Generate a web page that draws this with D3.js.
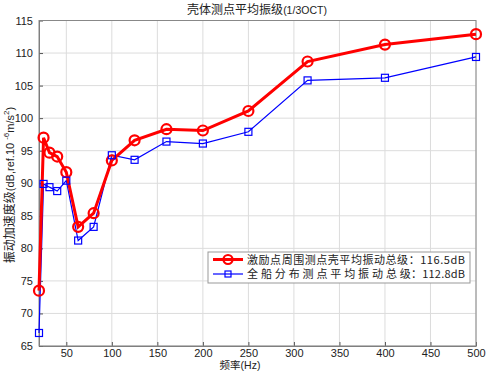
<!DOCTYPE html>
<html><head><meta charset="utf-8">
<script src="https://cdn.jsdelivr.net/npm/d3@7/dist/d3.min.js"></script>
<style>body{margin:0;background:#fff}svg{display:block}</style>
</head><body>
<svg id="c" width="486" height="373"></svg>
<script>
const freqs = [20, 25, 31.5, 40, 50, 63, 80, 100, 125, 160, 200, 250, 315, 400, 500];
const redVals = [73.5, 97.0, 94.7, 94.1, 91.7, 83.3, 85.4, 93.5, 96.6, 98.3, 98.1, 101.1, 108.7, 111.3, 112.9];
const blueVals = [67.0, 89.9, 89.4, 88.8, 90.4, 81.2, 83.3, 94.3, 93.6, 96.4, 96.1, 97.9, 105.8, 106.2, 109.4];
const xTicks = [50, 100, 150, 200, 250, 300, 350, 400, 450, 500];
const yTicks = [65, 70, 75, 80, 85, 90, 95, 100, 105, 110, 115];
const title = "壳体测点平均振级";
const titleSuffix = "(1/3OCT)";
const legendRed = "激励点周围测点壳平均振动总级：116.5dB";
const legendBlue = "全 船 分 布 测 点 平 均 振 动 总 级：112.8dB";

const L = 39, R = 476, T = 20.5, B = 346;
const svg = d3.select("#c");
const x = d3.scaleLinear().domain([20, 500]).range([L, R]);
const y = d3.scaleLinear().domain([65, 115]).range([B, T]);
const sans = "Liberation Sans, Arial, sans-serif";
const cjk = "'Noto Sans CJK SC', sans-serif";

// grid
const g = svg.append("g");
g.selectAll(".gx").data(xTicks).enter().append("line")
  .attr("x1", d => x(d)).attr("x2", d => x(d)).attr("y1", T).attr("y2", B)
  .attr("stroke", "#dcdcdc").attr("stroke-width", 1);
g.selectAll(".gy").data(yTicks).enter().append("line")
  .attr("x1", L).attr("x2", R).attr("y1", d => y(d)).attr("y2", d => y(d))
  .attr("stroke", "#dcdcdc").attr("stroke-width", 1);

// axes
const xAxis = d3.axisBottom(x).tickValues(xTicks).tickSizeInner(-4).tickSizeOuter(0).tickPadding(3);
const yAxis = d3.axisLeft(y).tickValues(yTicks).tickSizeInner(-4).tickSizeOuter(0).tickPadding(6);
const gx = svg.append("g").attr("transform", `translate(0,${B})`).call(xAxis);
const gy = svg.append("g").attr("transform", `translate(${L},0)`).call(yAxis);
[gx, gy].forEach(a => {
  a.selectAll("text").attr("font-family", sans).attr("font-size", 11).attr("fill", "#222");
  a.selectAll("line").attr("stroke", "#555");
  a.select(".domain").attr("stroke", "#777");
});
// box
svg.append("rect").attr("x", L).attr("y", T).attr("width", R - L).attr("height", B - T)
  .attr("fill", "none").attr("stroke", "#888").attr("stroke-width", 1);

// lines
const lineGen = vals => d3.line().x((d, i) => x(freqs[i])).y(d => y(d))(vals);
svg.append("path").attr("d", lineGen(blueVals)).attr("fill", "none")
  .attr("stroke", "#0000ff").attr("stroke-width", 1.2);
svg.append("path").attr("d", lineGen(redVals)).attr("fill", "none")
  .attr("stroke", "#ff0000").attr("stroke-width", 3);

svg.selectAll(".rm").data(redVals).enter().append("circle")
  .attr("cx", (d, i) => x(freqs[i])).attr("cy", d => y(d)).attr("r", 5)
  .attr("fill", "none").attr("stroke", "#ff0000").attr("stroke-width", 2.2);
svg.selectAll(".bm").data(blueVals).enter().append("rect")
  .attr("x", (d, i) => x(freqs[i]) - 3.5).attr("y", d => y(d) - 3.5)
  .attr("width", 7).attr("height", 7)
  .attr("fill", "none").attr("stroke", "#0000ff").attr("stroke-width", 1.2);

// title
const tt = svg.append("text").attr("x", 257).attr("y", 14).attr("text-anchor", "middle")
  .attr("fill", "#222");
tt.append("tspan").attr("font-family", cjk).attr("font-size", 12).text(title);
tt.append("tspan").attr("font-family", sans).attr("font-size", 10.5).text(titleSuffix);

// x label
const xl = svg.append("text").attr("x", 240).attr("y", 369).attr("text-anchor", "middle").attr("fill", "#222");
xl.append("tspan").attr("font-family", cjk).attr("font-size", 10.5).text("频率");
xl.append("tspan").attr("font-family", sans).attr("font-size", 10.5).text("(Hz)");

// y label
const yl = svg.append("text").attr("transform", "translate(14,185) rotate(-90)")
  .attr("text-anchor", "middle").attr("fill", "#222").attr("font-size", 11);
yl.append("tspan").attr("font-family", cjk).attr("font-size", 12).text("振动加速度级");
yl.append("tspan").attr("font-family", sans).text("(dB,ref.10 ");
yl.append("tspan").attr("font-family", sans).attr("font-size", 8).attr("dy", -5).text("-6");
yl.append("tspan").attr("font-family", sans).attr("dy", 5).text("m/s");
yl.append("tspan").attr("font-family", sans).attr("font-size", 8).attr("dy", -5).text("2");
yl.append("tspan").attr("font-family", sans).attr("dy", 5).text(")");

// legend
const lg = svg.append("g");
lg.append("rect").attr("x", 208).attr("y", 252).attr("width", 262).attr("height", 31)
  .attr("fill", "#fff").attr("stroke", "#999").attr("stroke-width", 1);
const ly1 = 259.5, ly2 = 274;
lg.append("line").attr("x1", 213).attr("x2", 243).attr("y1", ly1).attr("y2", ly1)
  .attr("stroke", "#ff0000").attr("stroke-width", 3);
lg.append("circle").attr("cx", 228).attr("cy", ly1).attr("r", 4.5)
  .attr("fill", "none").attr("stroke", "#ff0000").attr("stroke-width", 2.2);
lg.append("line").attr("x1", 213).attr("x2", 243).attr("y1", ly2).attr("y2", ly2)
  .attr("stroke", "#0000ff").attr("stroke-width", 1.2);
lg.append("rect").attr("x", 225).attr("y", ly2 - 3).attr("width", 6).attr("height", 6)
  .attr("fill", "none").attr("stroke", "#0000ff").attr("stroke-width", 1.2);
lg.append("text").attr("x", 247).attr("y", ly1 + 4).attr("font-family", cjk)
  .attr("font-size", 11).attr("fill", "#222").attr("textLength", 218).text(legendRed);
lg.append("text").attr("x", 247).attr("y", ly2 + 4).attr("font-family", cjk)
  .attr("font-size", 11).attr("fill", "#222").attr("textLength", 218).text(legendBlue);
</script>
</body></html>
